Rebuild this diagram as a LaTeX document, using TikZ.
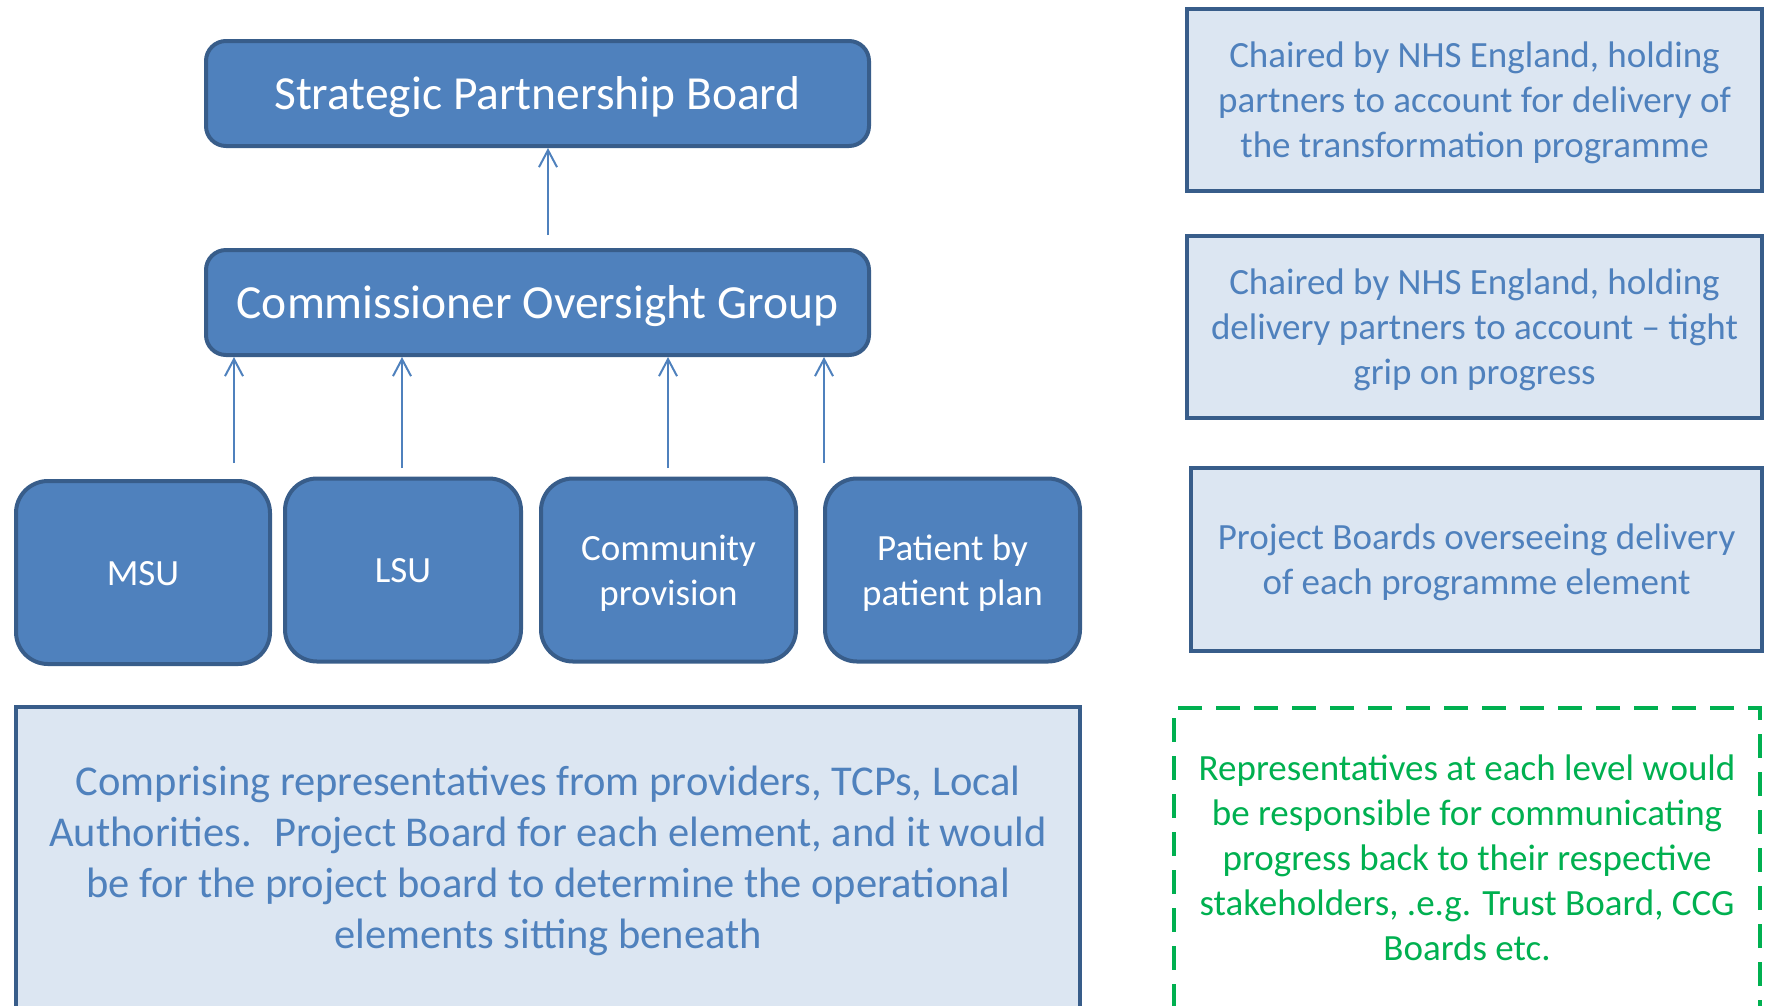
\documentclass[tikz,border=0pt]{standalone}
\usepackage{fontspec}
\setmainfont{Carlito}
\usetikzlibrary{arrows.meta}
\definecolor{boardblue}{HTML}{4F81BD}
\definecolor{boardedge}{HTML}{385D8A}
\definecolor{notefill}{HTML}{DCE6F2}
\definecolor{notegreen}{HTML}{00B050}
% text frames keep the full ascent above the first line and the descent below the last
\newcommand\linetop[1]{\rule{0pt}{\dimexpr0.95em+#1\baselineskip-\baselineskip\relax}}
\newcommand\linebot{\rule[-0.27em]{0pt}{0.27em}}
\tikzset{>={Straight Barb[length=17pt,width=18pt]}}
\tikzset{
  frametext/.style={align=center, inner sep=0pt,
    execute at begin node=\linetop{#1}, execute at end node=\linebot},
  frametext/.default=1,
  board/.style={frametext, draw=boardedge, line width=4pt, fill=boardblue,
    text=white, rounded corners=20pt},
  unit/.style={board, rounded corners=32pt, minimum height=183pt,
    font=\fontsize{37}{45}\selectfont},
  note/.style={draw=boardedge, line width=4pt, fill=notefill,
    text=boardblue, font=\fontsize{37}{45}\selectfont},
  feed/.style={->, draw=boardblue, line width=2pt}
}

\begin{document}
\begin{tikzpicture}[x=1pt,y=-1pt]
\useasboundingbox (0,0) rectangle (1768,1005);
\clip (0,0) rectangle (1768,1005);

% boards
\node[board, minimum width=663pt, minimum height=105pt,
  font=\fontsize{47.5}{57}\selectfont] (spb) at (537.5,93.5) {Strategic Partnership Board};
\node[board, minimum width=663pt, minimum height=105pt,
  font=\fontsize{47.5}{57}\selectfont] (cog) at (537.5,302.5) {Commissioner Oversight Group};

% programme elements
\node[unit, minimum width=254pt] (msu) at (143,572.5) {MSU};
\node[unit, minimum width=236pt] (lsu) at (403,570) {LSU};
\node[unit, frametext=2, minimum width=255pt] (comm) at (668.5,570) {Community\\provision};
\node[unit, frametext=2, minimum width=255pt] (plan) at (952.5,570) {Patient by\\patient plan};

% reporting lines
\coordinate (up0) at (548,235);
\draw[feed] (up0) -- (up0 |- spb.south);
\coordinate (up1) at (234,463);
\coordinate (up2) at (402,468);
\coordinate (up3) at (668,468);
\coordinate (up4) at (824,463);
\foreach \c in {up1,up2,up3,up4}
  \draw[feed] (\c) -- (\c |- cog.south);

% project board remit
\node[note, frametext=4, minimum width=1064pt, minimum height=302pt,
  font=\fontsize{42.5}{51}\selectfont] (remit) at (548,858)
  {Comprising representatives from providers, TCPs, Local\\
   Authorities.~ Project Board for each element, and it would\\
   be for the project board to determine the operational\\
   elements sitting beneath};

% notes on the right
\node[note, frametext=3, minimum width=575pt, minimum height=182pt] (n1) at (1474.5,100)
  {Chaired by NHS England, holding\\
   partners to account for delivery of\\
   the transformation programme};
\node[note, frametext=3, minimum width=575pt, minimum height=182pt] (n2) at (1474.5,327)
  {Chaired by NHS England, holding\\
   delivery partners to account -- tight\\
   grip on progress};
\node[note, frametext=2, minimum width=571pt, minimum height=183pt] (n3) at (1476.5,559.5)
  {Project Boards overseeing delivery\\
   of each programme element};
\node[frametext=5, draw=notegreen, line width=4pt, dash pattern=on 24pt off 14pt,
  text=notegreen, minimum width=586pt, minimum height=300pt,
  font=\fontsize{37}{45}\selectfont] (n4) at (1467,858)
  {Representatives at each level would\\
   be responsible for communicating\\
   progress back to their respective\\
   stakeholders, .e.g. Trust Board, CCG\\
   Boards etc.};
\end{tikzpicture}
\end{document}
